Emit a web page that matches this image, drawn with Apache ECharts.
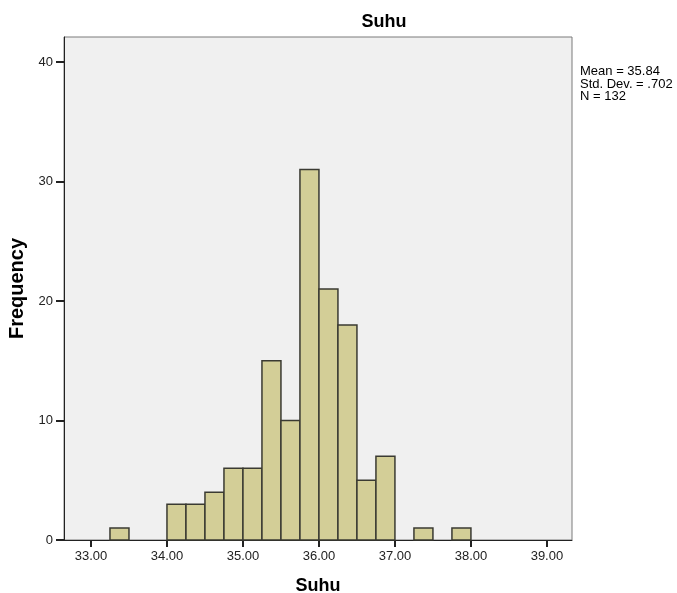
<!DOCTYPE html>
<html>
<head>
<meta charset="utf-8">
<script src="https://cdn.jsdelivr.net/npm/echarts@6/dist/echarts.min.js"></script>
<style>
  html, body { margin: 0; padding: 0; background: #fff; }
  #chart { width: 677px; height: 593px; }
</style>
</head>
<body>
<div id="chart"></div>
<script>
// bin edges (start, end) and counts
var binStart = [33.25, 34.00, 34.25, 34.50, 34.75, 35.00, 35.25, 35.50, 35.75, 36.00, 36.25, 36.50, 36.75, 37.25, 37.75];
var binEnd   = [33.50, 34.25, 34.50, 34.75, 35.00, 35.25, 35.50, 35.75, 36.00, 36.25, 36.50, 36.75, 37.00, 37.50, 38.00];
var counts   = [1, 3, 3, 4, 6, 6, 15, 10, 31, 21, 18, 5, 7, 1, 1];
var xTicks = [33, 34, 35, 36, 37, 38, 39];
var yTicks = [0, 10, 20, 30, 40];
var statsLines = ['Mean = 35.84', 'Std. Dev. = .702', 'N = 132'];

var histData = [];
for (var i = 0; i < counts.length; i++) {
  histData.push([binStart[i], binEnd[i], counts[i]]);
}

var chart = echarts.init(document.getElementById('chart'));
chart.setOption({
  animation: false,
  textStyle: { fontFamily: 'Liberation Sans, Arial, sans-serif' },
  title: {
    text: 'Suhu',
    left: 379,
    top: 8,
    textAlign: 'center',
    textStyle: { fontSize: 18, fontWeight: 'bold', color: '#000' }
  },
  graphic: [{
    type: 'text',
    left: 580,
    top: 65,
    style: {
      text: statsLines.join('\n'),
      font: '13px Liberation Sans, Arial, sans-serif',
      lineHeight: 12.5,
      fill: '#000'
    }
  }],
  grid: {
    left: 64, right: 105, top: 37, bottom: 53,
    outerBoundsMode: 'none',
    containLabel: false,
    show: true,
    backgroundColor: '#f0f0f0',
    borderColor: '#7a7a7a',
    borderWidth: 1
  },
  xAxis: {
    type: 'value',
    min: 32.645,
    max: 39.33,
    name: 'Suhu',
    nameLocation: 'middle',
    nameGap: 37,
    nameTextStyle: { fontSize: 18, fontWeight: 'bold', color: '#000' },
    splitLine: { show: false },
    axisLine: { lineStyle: { color: '#222', width: 1 } },
    axisTick: { customValues: xTicks, length: 7, lineStyle: { color: '#222', width: 2 } },
    axisLabel: {
      customValues: xTicks,
      fontSize: 13,
      color: '#222',
      margin: 10,
      formatter: function (v) { return v.toFixed(2); }
    }
  },
  yAxis: {
    type: 'value',
    min: 0,
    max: 42.1,
    name: 'Frequency',
    nameLocation: 'middle',
    nameGap: 36,
    nameTextStyle: { fontSize: 20, fontWeight: 'bold', color: '#000' },
    splitLine: { show: false },
    axisLine: { show: true, lineStyle: { color: '#222', width: 1 } },
    axisTick: { show: true, customValues: yTicks, length: 8, lineStyle: { color: '#222', width: 2 } },
    axisLabel: { customValues: yTicks, fontSize: 13, color: '#222', margin: 11 }
  },
  series: [{
    type: 'custom',
    data: histData,
    encode: { x: [0, 1], y: 2 },
    renderItem: function (params, api) {
      var p0 = api.coord([api.value(0), api.value(2)]);
      var p1 = api.coord([api.value(1), 0]);
      return {
        type: 'rect',
        shape: { x: p0[0], y: p0[1], width: p1[0] - p0[0], height: p1[1] - p0[1] },
        style: { fill: '#d3ce97', stroke: '#3a3a32', lineWidth: 1.5 }
      };
    }
  }]
});
</script>
</body>
</html>
